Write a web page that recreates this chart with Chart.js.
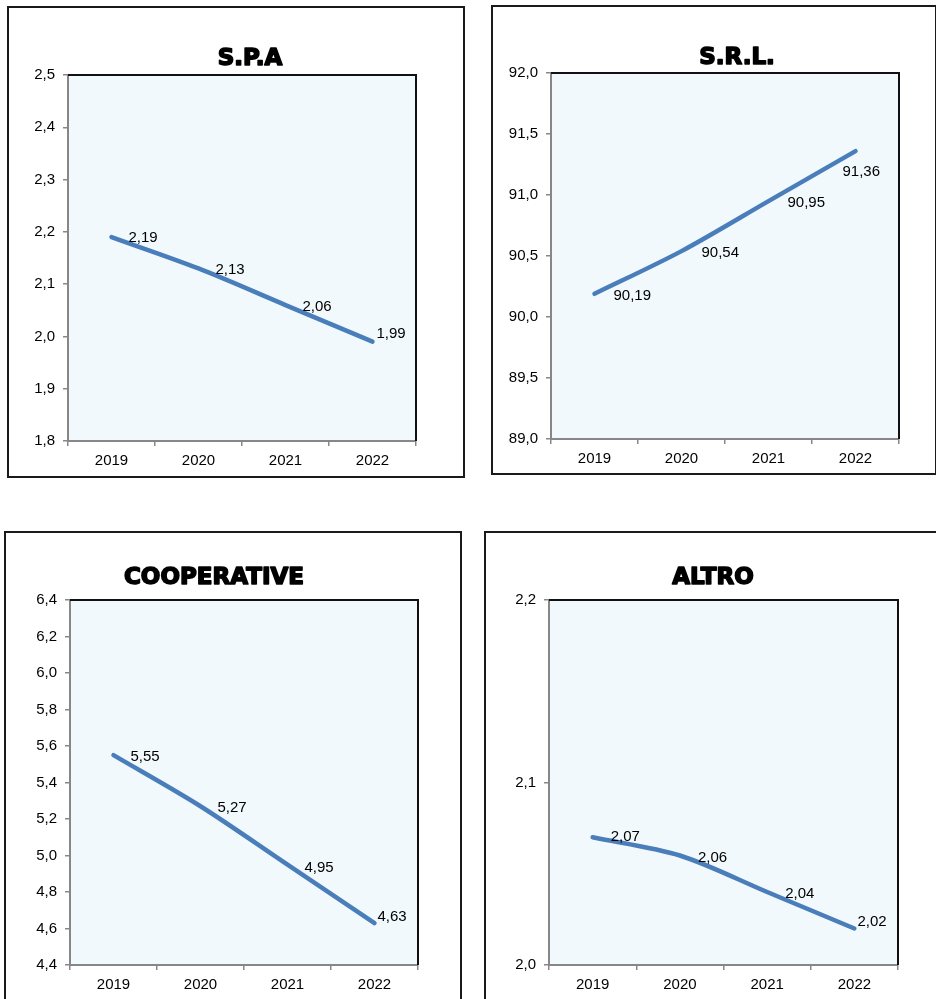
<!DOCTYPE html>
<html>
<head>
<meta charset="utf-8">
<script src="https://cdn.jsdelivr.net/npm/chart.js@4.4.1/dist/chart.umd.min.js"></script>
<style>
  html, body { margin: 0; padding: 0; background: #fff; width: 936px; height: 999px; overflow: hidden; position: relative; }
  .frame { position: absolute; border: 2px solid #1a1a1a; box-sizing: border-box; pointer-events: none; }
  canvas { position: absolute; }
</style>
</head>
<body>
<script>
// Categories and series (percent share by legal form)
const years = ['2019', '2020', '2021', '2022'];
const spaValues = [2.19, 2.13, 2.06, 1.99];
const srlValues = [90.19, 90.54, 90.95, 91.36];
const coopValues = [5.55, 5.27, 4.95, 4.63];
const altroValues = [2.07, 2.06, 2.04, 2.02];

// Value-axis ticks for each panel
const spaTicks = [1.8, 1.9, 2.0, 2.1, 2.2, 2.3, 2.4, 2.5];
const srlTicks = [89.0, 89.5, 90.0, 90.5, 91.0, 91.5, 92.0];
const coopTicks = [4.4, 4.6, 4.8, 5.0, 5.2, 5.4, 5.6, 5.8, 6.0, 6.2, 6.4];
const altroTicks = [2.0, 2.1, 2.2];

// Panel titles
const titles = ['S.P.A', 'S.R.L.', 'COOPERATIVE', 'ALTRO'];

// Page layout: frame box [x, y, w, h], plot rectangle [l, t, r, b], title centre, label nudges
const panels = [
  { title: titles[0], values: spaValues, ticks: spaTicks,
    box: [8, 7, 456, 470], plot: [68, 75, 416, 441], titleAt: [242, 52],
    shifts: [[17, 1], [17, 1], [17, 2], [4, -8]] },
  { title: titles[1], values: srlValues, ticks: srlTicks,
    box: [492, 6, 444, 468], plot: [551, 73, 899, 439], titleAt: [245, 52],
    shifts: [[19, 2], [20, 2], [19, 2], [-13, 21]] },
  { title: titles[2], values: coopValues, ticks: coopTicks,
    box: [5, 532, 456, 480], plot: [70, 600, 418, 965], titleAt: [209, 46],
    shifts: [[17, 2], [17, 2], [17, 3], [3, -6]] },
  { title: titles[3], values: altroValues, ticks: altroTicks,
    box: [485, 532, 452, 480], plot: [549, 600, 898, 965], titleAt: [228, 46],
    shifts: [[18, 0], [18, 2], [18, 2], [3, -7]] }
];

const AXIS_FONT = { family: '"Liberation Sans", Arial, sans-serif', size: 15 };
const AXIS_GREY = '#878787';
const LINE_BLUE = '#4A7EBB';
const PLOT_FILL = '#F2F9FC';

const comma = (v, d) => v.toFixed(d).replace('.', ',');

// Plot background plus the dark top/right edges of the plot rectangle
const plotFrame = {
  id: 'plotFrame',
  beforeDraw(chart) {
    const { ctx, chartArea: a } = chart;
    ctx.save();
    ctx.fillStyle = PLOT_FILL;
    ctx.fillRect(a.left, a.top, a.right - a.left, a.bottom - a.top);
    ctx.restore();
  },
  afterDraw(chart) {
    const { ctx, chartArea: a } = chart;
    ctx.save();
    ctx.strokeStyle = '#111';
    ctx.lineWidth = 2;
    ctx.beginPath();
    ctx.moveTo(a.left, a.top);
    ctx.lineTo(a.right, a.top);
    ctx.lineTo(a.right, a.bottom);
    ctx.stroke();
    ctx.restore();
  }
};

// Heavy panel heading
const panelTitle = {
  id: 'panelTitle',
  afterDraw(chart, args, opts) {
    const ctx = chart.ctx;
    ctx.save();
    ctx.font = 'bold 23px "DejaVu Sans", sans-serif';
    ctx.textAlign = 'center';
    ctx.textBaseline = 'middle';
    ctx.fillStyle = '#000';
    ctx.strokeStyle = '#000';
    ctx.lineWidth = 1.6;
    ctx.lineJoin = 'round';
    ctx.strokeText(opts.text, opts.x, opts.y);
    ctx.fillText(opts.text, opts.x, opts.y);
    ctx.restore();
  }
};

// Value labels beside each point
const valueLabels = {
  id: 'valueLabels',
  afterDatasetsDraw(chart, args, opts) {
    const ctx = chart.ctx;
    const meta = chart.getDatasetMeta(0);
    const data = chart.data.datasets[0].data;
    ctx.save();
    ctx.font = '15px "Liberation Sans", Arial, sans-serif';
    ctx.fillStyle = '#000';
    ctx.textAlign = 'left';
    ctx.textBaseline = 'middle';
    meta.data.forEach((pt, i) => {
      const [dx, dy] = opts.shifts[i];
      ctx.fillText(comma(data[i], 2), pt.x + dx, pt.y + dy);
    });
    ctx.restore();
  }
};

panels.forEach(p => {
  const [bx, by, bw, bh] = p.box;
  const cw = bw;
  const ch = Math.min(bh, 999 - by);

  const frame = document.createElement('div');
  frame.className = 'frame';
  frame.style.left = (bx - 1) + 'px';
  frame.style.top = (by - 1) + 'px';
  frame.style.width = (bw + 2) + 'px';
  frame.style.height = (bh + 2) + 'px';

  const canvas = document.createElement('canvas');
  canvas.width = cw;
  canvas.height = ch;
  canvas.style.left = bx + 'px';
  canvas.style.top = by + 'px';
  canvas.style.width = cw + 'px';
  canvas.style.height = ch + 'px';
  document.body.appendChild(canvas);
  document.body.appendChild(frame);

  const rl = p.plot[0] - bx, rt = p.plot[1] - by, rr = p.plot[2] - bx, rb = p.plot[3] - by;
  const tickList = p.ticks;

  new Chart(canvas, {
    type: 'line',
    data: {
      labels: years,
      datasets: [{
        data: p.values,
        borderColor: LINE_BLUE,
        borderWidth: 4.5,
        borderCapStyle: 'round',
        borderJoinStyle: 'round',
        pointRadius: 0,
        tension: 0.3,
        fill: false
      }]
    },
    options: {
      responsive: false,
      animation: false,
      events: [],
      layout: { padding: { left: 0, top: rt, right: cw - rr, bottom: 0 } },
      plugins: {
        legend: { display: false },
        tooltip: { enabled: false },
        panelTitle: { text: p.title, x: p.titleAt[0], y: p.titleAt[1] },
        valueLabels: { shifts: p.shifts }
      },
      scales: {
        x: {
          type: 'category',
          offset: true,
          grid: { offset: true, drawOnChartArea: false, drawTicks: true, tickLength: 5, color: AXIS_GREY, lineWidth: 1.5 },
          border: { color: AXIS_GREY, width: 2 },
          ticks: { color: '#000', font: AXIS_FONT, padding: 6, maxRotation: 0 },
          afterFit: s => { s.height = ch - rb; }
        },
        y: {
          min: tickList[0],
          max: tickList[tickList.length - 1],
          afterBuildTicks: s => { s.ticks = tickList.map(v => ({ value: v })); },
          afterFit: s => { s.width = rl; },
          grid: { drawOnChartArea: false, drawTicks: true, tickLength: 5, color: AXIS_GREY, lineWidth: 1.5 },
          border: { color: AXIS_GREY, width: 2 },
          ticks: { color: '#000', font: AXIS_FONT, padding: 8, autoSkip: false, callback: v => comma(v, 1) }
        }
      }
    },
    plugins: [plotFrame, panelTitle, valueLabels]
  });
});
</script>
</body>
</html>
